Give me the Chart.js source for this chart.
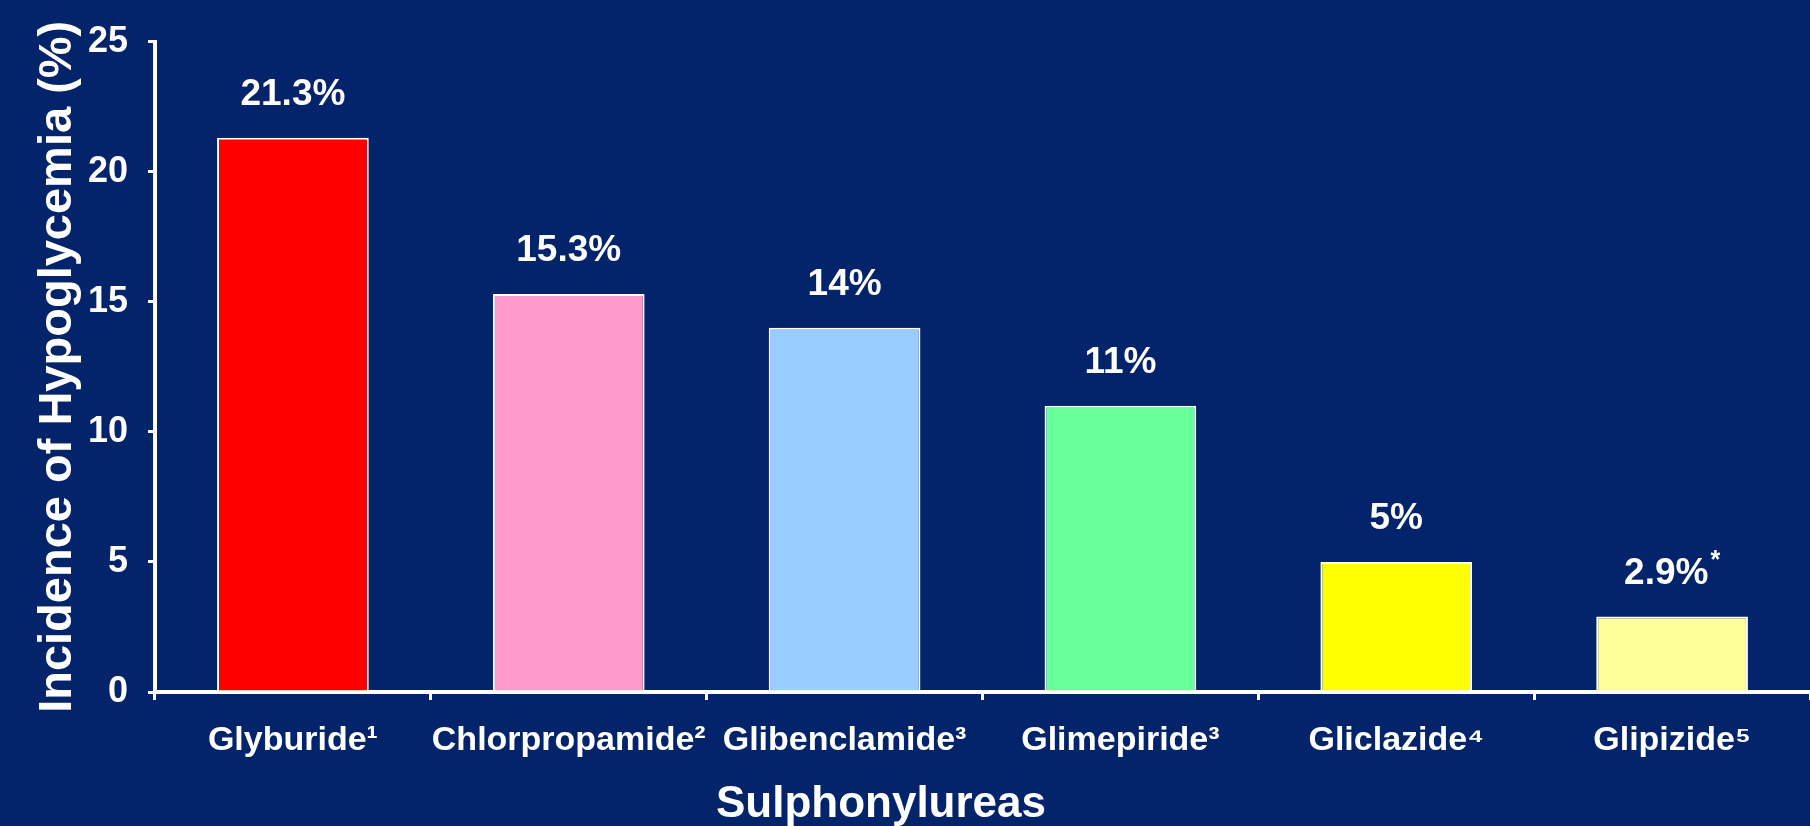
<!DOCTYPE html>
<html>
<head>
<meta charset="utf-8">
<script src="https://cdn.jsdelivr.net/npm/chart.js@4/dist/chart.umd.min.js"></script>
<style>
    html, body { margin: 0; padding: 0; background: #03236a; }
    #wrap { width: 1810px; height: 826px; }
</style>
</head>
<body>
<div id="wrap"><canvas id="hypoChart" width="1810" height="826"></canvas></div>
<script>
// data
var drugs = ["Glyburide¹", "Chlorpropamide²", "Glibenclamide³", "Glimepiride³", "Gliclazide⁴", "Glipizide⁵"];
var incidence = [21.3, 15.3, 14, 11, 5, 2.9];
var valueLabels = ["21.3%", "15.3%", "14%", "11%", "5%", "2.9%"];
var valueMarks = ["", "", "", "", "", "*"];
var barColors = ["#ff0000", "#ff99cc", "#99ccff", "#66ff99", "#ffff00", "#ffff99"];
var yTicks = [0, 5, 10, 15, 20, 25];
var xTitle = "Sulphonylureas";

var FONT = "'Liberation Sans', Arial, sans-serif";

// draws the % labels above each bar, and the x title (sits left of the axis centre)
var valueLabelPlugin = {
    id: 'valueLabels',
    afterDatasetsDraw: function (chart) {
        var ctx = chart.ctx;
        var meta = chart.getDatasetMeta(0);
        ctx.save();
        ctx.fillStyle = '#ffffff';
        ctx.textBaseline = 'middle';
        meta.data.forEach(function (bar, i) {
            ctx.font = 'bold 37px ' + FONT;
            var main = valueLabels[i];
            var w1 = ctx.measureText(main).width;
            ctx.font = 'bold 25px ' + FONT;
            var w2 = valueMarks[i] ? ctx.measureText(valueMarks[i]).width + 2 : 0;
            var x0 = bar.x - (w1 + w2) / 2;
            var y = bar.y - 43;
            ctx.textAlign = 'left';
            ctx.font = 'bold 37px ' + FONT;
            ctx.fillText(main, x0, y);
            if (valueMarks[i]) {
                ctx.font = 'bold 25px ' + FONT;
                ctx.fillText(valueMarks[i], x0 + w1 + 2, y - 12);
            }
        });
        ctx.textAlign = 'center';
        ctx.font = 'bold 44px ' + FONT;
        ctx.fillText(xTitle, chart.width / 2 - 24, 805);
        ctx.restore();
    }
};

var hypo = document.getElementById("hypoChart");
var hypoChart = new Chart(hypo, {
    type: 'bar',
    data: {
        labels: drugs,
        datasets: [{
            data: incidence,
            backgroundColor: barColors,
            borderColor: '#ffffff',
            borderWidth: 2,
            barPercentage: 0.55,
            categoryPercentage: 1
        }]
    },
    options: {
        responsive: false,
        devicePixelRatio: 1,
        animation: false,
        layout: {
            padding: { top: 32, right: 0, bottom: 0, left: 0 }
        },
        plugins: {
            legend: { display: false },
            tooltip: { enabled: false }
        },
        scales: {
            x: {
                grid: {
                    drawOnChartArea: false,
                    drawTicks: true,
                    tickLength: 8,
                    color: '#ffffff',
                    lineWidth: 3
                },
                border: { color: '#ffffff', width: 4 },
                ticks: {
                    color: '#ffffff',
                    padding: 20,
                    maxRotation: 0,
                    autoSkip: false,
                    font: { family: FONT, size: 34, weight: 'bold' }
                },
                afterFit: function (scale) {
                    scale.height = 134;
                }
            },
            y: {
                min: 0,
                max: 25,
                afterBuildTicks: function (scale) {
                    scale.ticks = yTicks.map(function (v) { return { value: v }; });
                },
                grid: {
                    drawOnChartArea: false,
                    drawTicks: true,
                    tickLength: 7,
                    color: '#ffffff',
                    lineWidth: 3
                },
                border: { color: '#ffffff', width: 4 },
                ticks: {
                    color: '#ffffff',
                    padding: 20,
                    font: { family: FONT, size: 36, weight: 'bold' }
                },
                title: {
                    display: true,
                    text: 'Incidence of Hypoglycemia (%)',
                    color: '#ffffff',
                    padding: { top: 30, bottom: 0 },
                    font: { family: FONT, size: 47, weight: 'bold', lineHeight: 1.2 }
                },
                afterFit: function (scale) {
                    scale.width = 155;
                }
            }
        }
    },
    plugins: [valueLabelPlugin]
});
</script>
</body>
</html>
